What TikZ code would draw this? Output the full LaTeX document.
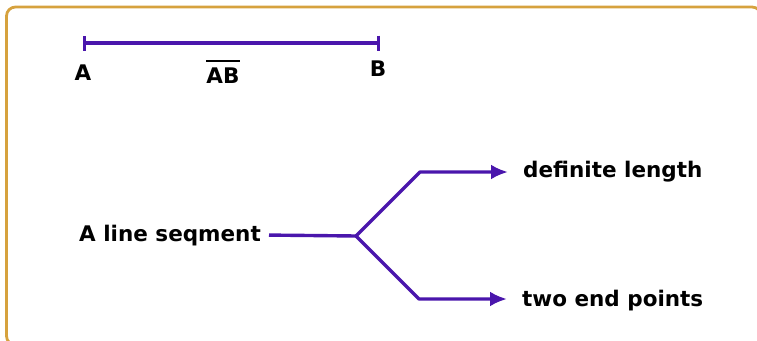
\documentclass[tikz,border=0pt]{standalone}
\usepackage{fontspec}
\setmainfont{DejaVu Sans}
\usetikzlibrary{arrows.meta}
\definecolor{frame}{HTML}{D6A23E}
\definecolor{pur}{HTML}{4A16AC}
\tikzset{
  lbl/.style={font=\bfseries\fontsize{21.5}{25}\selectfont, inner sep=0pt, text=black},
  seg/.style={draw=pur, line width=3.4pt},
  branch/.style={draw=pur, line width=3.4pt, line join=round, -{Latex[length=17pt,width=15pt]}, shorten >=15pt},
}
\begin{document}
\begin{tikzpicture}[x=1pt,y=-1pt]
\useasboundingbox (0,0) rectangle (757,340);
\draw[frame, line width=2.8pt, rounded corners=9pt] (6.5,7) rectangle (761,345);
% segment AB
\coordinate (pA) at (83,43);
\coordinate (pB) at (380,43);
\draw[seg, {Bar[width=15pt]}-{Bar[width=15pt]}] (pA) -- (pB);
\node[lbl, anchor=base] (lA) at (83,80) {A};
\node[lbl, anchor=base] (lAB) at (223,83) {AB};
\draw[line width=2.6pt] ([yshift=6pt]lAB.north west) -- ([yshift=6pt]lAB.north east);
\node[lbl, anchor=base] (lB) at (378,76) {B};
% tree
\node[lbl, anchor=base east] (ls) at (261,241) {A line seqment};
\node[lbl, anchor=base west] (dl) at (523,177) {definite length};
\node[lbl, anchor=base west] (ep) at (522,306) {two end points};
\coordinate (j) at (356,236);
\coordinate (b1) at (420,172);
\coordinate (b2) at (419,299);
\draw[seg] ([xshift=8pt]ls.east) -- (j);
\draw[branch] (j) -- (b1) -- (b1 -| dl.west);
\draw[branch] (j) -- (b2) -- (b2 -| ep.west);
\end{tikzpicture}
\end{document}
